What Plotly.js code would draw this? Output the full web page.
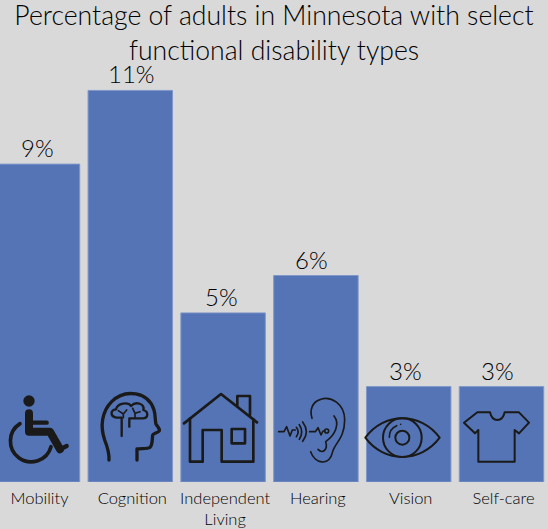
<!DOCTYPE html>
<html>
<head>
<meta charset="utf-8">
<script src="https://cdn.plot.ly/plotly-3.0.1.min.js"></script>
<style>html,body{margin:0;padding:0;background:#d9d9d9;overflow:hidden}</style>
</head>
<body>
<div id="chart" style="width:548px;height:529px"></div>
<script>
const categories = ["Mobility", "Cognition", "Independent<br>Living", "Hearing", "Vision", "Self-care"];
const values = [8.93, 11.0, 4.75, 5.8, 2.68, 2.68];
const valueLabels = ["9%", "11%", "5%", "6%", "3%", "3%"];
const labelNudge = [0, 1, -2, -4, -3, -4];

const ink = "#1a1a1a";
const textInk = "#000000";
const W = 548, PLOT_H = 482;
const st = (w) => `fill="none" stroke="${ink}" stroke-width="${w}" stroke-linecap="round" stroke-linejoin="round"`;

// Icon artwork is drawn in a 3x coordinate system of the picture.
function icon(x0, y0, x1, y1, offX, offY, inner) {
  const svg = `<svg xmlns="http://www.w3.org/2000/svg" viewBox="${x0} ${y0} ${x1-x0} ${y1-y0}" width="${(x1-x0)}" height="${(y1-y0)}">${inner}</svg>`;
  const left = offX + x0/3, top = offY + y0/3;
  return {
    source: "data:image/svg+xml;base64," + btoa(svg),
    xref: "paper", yref: "paper", xanchor: "left", yanchor: "top",
    x: left/W, y: 1 - top/PLOT_H,
    sizex: ((x1-x0)/3)/W, sizey: ((y1-y0)/3)/PLOT_H,
    sizing: "stretch", layer: "above"
  };
}

const icons = [
  icon(20,35,215,260,0,380,
    `<circle cx="87" cy="63" r="17" fill="${ink}"/>
     <path d="M87,100 V155 H150 L180,208" ${st(24)}/>
     <path d="M180,208 L200,198" ${st(13)}/>
     <path d="M87,128 H140" ${st(13)}/>
     <path d="M60,131 A62,62 0 1 0 153,200" ${st(11)}/>`),
  icon(295,20,495,255,0,380,
    `<path d="M327,240 C328,215 322,200 314,180 C300,140 305,95 335,65 C375,25 445,35 462,90 C467,105 465,125 468,132 C472,140 480,145 478,152 C475,158 460,160 458,165 C456,180 458,195 450,202 C442,207 425,205 411,207 V240" ${st(10)}/>
     <path d="M365,168 V113 H350 C330,110 330,90 348,88 C352,68 385,65 393,78 C408,62 435,72 430,90 C447,95 445,115 428,115 H388 V140" ${st(7)}/>
     <path d="M355,92 L370,102 L380,90 M398,85 L405,100 L420,95 M370,102 V113 M405,100 V113" ${st(5)}/>`),
  icon(540,30,785,255,0,380,
    `<path d="M552,130 L663,42 L771,127" ${st(8)}/>
     <path d="M570,115 V245 H608 V150 H665 V245 H760 V118" ${st(8)}/>
     <rect x="695" y="147" width="40" height="43" ${st(8)}/>
     <path d="M712,78 V48 H750 V105" ${st(8)}/>`),
  icon(5,45,225,262,274,380,
    `<path d="M110,215 C122,250 165,262 176,215 C182,190 212,175 212,120 C212,70 170,48 140,58 C115,65 106,90 114,115" ${st(5)}/>
     <path d="M132,208 C148,225 162,205 155,185 C185,165 198,130 180,108" ${st(5)}/>
     <path d="M14,155 H30 L38,140 L48,168 L55,150 H64" ${st(5)}/>
     <path d="M67,142 Q78,155 67,170 M76,134 Q90,155 76,178 M86,126 Q108,155 86,184" ${st(5)}/>
     <path d="M107,155 H124 L132,143 L141,165 L147,153 H153" ${st(5)}/>
     <circle cx="158" cy="153" r="6" ${st(5)}/>`),
  icon(265,105,505,240,274,380,
    `<path d="M274,173 C330,95 440,95 497,173 C440,250 330,250 274,173 Z" ${st(6)}/>
     <circle cx="385" cy="173" r="58" ${st(6)}/>
     <circle cx="385" cy="173" r="21" ${st(6)}/>
     <path d="M346,172 C346,155 355,142 368,137" ${st(5)}/>
     <circle cx="380" cy="133" r="2.5" fill="${ink}"/>`),
  icon(560,85,775,255,274,380,
    `<path d="M610,97 H648 C655,128 685,128 692,97 H735 L765,128 L735,160 L722,150 V245 H613 V150 L603,160 L570,128 Z" ${st(6)}/>`)
];

const trace = {
  type: "bar",
  x: categories.map((_, i) => i),
  y: values,
  width: 0.91,
  marker: { color: "#5474b5", line: { color: "#7f97ca", width: 1 } },
  hoverinfo: "skip"
};

const layout = {
  width: 548, height: 529,
  margin: { l: 0, r: 0, t: 0, b: 47, pad: 0 },
  paper_bgcolor: "#d9d9d9",
  plot_bgcolor: "#d9d9d9",
  showlegend: false,
  title: {
    text: "Percentage of adults in Minnesota with select<br>functional disability types",
    font: { family: "Lato, sans-serif", size: 26.6, weight: 300, color: textInk },
    x: 0.5, xanchor: "center", xref: "paper",
    y: 0.952, yanchor: "top", yref: "container"
  },
  xaxis: {
    range: [-0.404, 5.501],
    tickmode: "array",
    tickvals: categories.map((_, i) => i),
    ticktext: categories,
    ticks: "",
    showgrid: false, zeroline: false, showline: false,
    tickangle: 0,
    ticklabelshift: 2,
    ticklabelstandoff: 4,
    tickfont: { family: "Lato, sans-serif", size: 16.5, weight: 300, color: textInk }
  },
  yaxis: {
    range: [0, 13.54],
    visible: false,
    showgrid: false, zeroline: false
  },
  images: icons,
  annotations: valueLabels.map((t, i) => ({
    x: i, y: values[i], xref: "x", yref: "y",
    text: t, showarrow: false,
    xanchor: "center", yanchor: "bottom",
    xshift: labelNudge[i], yshift: 0,
    font: { family: "Lato, sans-serif", size: 24, weight: 300, color: textInk }
  }))
};

Plotly.newPlot("chart", [trace], layout, { displayModeBar: false, staticPlot: true });
</script>
</body>
</html>
